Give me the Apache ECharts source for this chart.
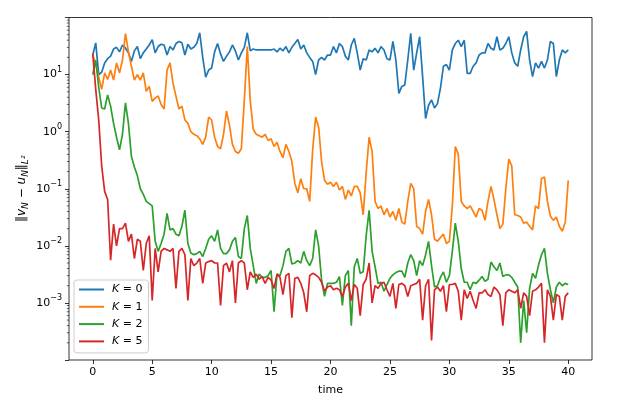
<!DOCTYPE html>
<html>
<head>
<meta charset="utf-8">
<script src="https://cdn.jsdelivr.net/npm/echarts@6.0.0/dist/echarts.min.js"></script>
<style>
  html, body { margin: 0; padding: 0; background: #fff; }
  #main { width: 618px; height: 401px; }
</style>
</head>
<body>
<div id="main"></div>
<script>
// sampled every 0.25 time units, t = 0 .. 40
var dt = 0.25;

var k0 = [22, 36, 10, 11, 16, 19, 21, 28, 30, 25, 33, 29, 24, 17, 26, 31, 19, 24, 28, 33,
  41, 24, 31, 34, 33, 22, 31, 27, 35, 38, 36, 22, 34, 28, 30, 35, 54, 20, 9, 12,
  13, 25, 35, 23, 17, 21, 25, 33, 26, 18, 24, 30, 54, 26, 28, 27, 27, 27, 27, 27,
  27, 28, 25, 29, 26, 31, 24, 30, 35, 41, 28, 33, 24, 20, 17, 10, 18, 20, 18, 22,
  22, 31, 24, 35, 31, 21, 18, 33, 43, 24, 12, 19, 18, 27, 25, 29, 24, 31, 27, 19,
  18, 38, 18, 4.7, 6.2, 6.6, 18, 53, 12, 24, 46, 9.2, 1.7, 2.9, 3.6, 2.6, 3.1, 5.8, 14, 15,
  12, 27, 35, 40, 31, 40, 10.5, 10.5, 14, 16, 22, 24, 24, 35, 29, 27, 46, 27, 29, 35,
  46, 24, 16, 14, 27, 46, 57, 18, 9.2, 16, 13, 17, 13, 18, 38, 35, 9.2, 18, 27, 24,
  27];

var k1 = [22, 15, 9, 5.5, 10.7, 8.2, 12, 8, 16, 10.7, 18, 52, 25, 14, 8, 10, 8, 10.7, 5.1, 6.2,
  3.4, 3.9, 4.2, 3.0, 2.5, 12, 16, 7, 4.2, 2.5, 2.8, 1.6, 1.4, 1.0, 0.9, 0.85, 0.75, 0.6, 0.8, 1.8,
  1.6, 0.8, 0.55, 0.5, 0.9, 2.3, 1.3, 0.6, 0.45, 0.42, 0.5, 3.6, 31, 3.5, 1.1, 0.9, 0.85, 0.8, 0.9, 0.7,
  0.75, 0.55, 0.65, 0.45, 0.35, 0.6, 0.45, 0.3, 0.124, 0.085, 0.15, 0.1, 0.1, 0.06, 0.48, 1.8, 1.2, 0.3, 0.14, 0.12,
  0.13, 0.11, 0.13, 0.095, 0.11, 0.065, 0.095, 0.075, 0.11, 0.11, 0.085, 0.035, 0.19, 0.8, 0.45, 0.06, 0.045, 0.05, 0.035, 0.045,
  0.032, 0.04, 0.028, 0.045, 0.026, 0.024, 0.06, 0.124, 0.1, 0.022, 0.02, 0.016, 0.04, 0.065, 0.035, 0.013, 0.012, 0.014, 0.016, 0.011,
  0.012, 0.05, 0.55, 0.4, 0.06, 0.05, 0.045, 0.05, 0.04, 0.032, 0.045, 0.042, 0.028, 0.06, 0.11, 0.065, 0.035, 0.02, 0.024, 0.1,
  0.33, 0.25, 0.035, 0.034, 0.032, 0.025, 0.026, 0.022, 0.019, 0.05, 0.045, 0.15, 0.16, 0.06, 0.033, 0.028, 0.032, 0.022, 0.018, 0.026,
  0.14];

var k2 = [10, 18, 6, 2.6, 2.5, 4.4, 2.8, 1.4, 0.8, 0.48, 0.9, 3.2, 1.4, 0.37, 0.24, 0.17, 0.1, 0.08, 0.06, 0.055,
  0.05, 0.012, 0.008, 0.011, 0.016, 0.037, 0.019, 0.02, 0.016, 0.015, 0.022, 0.042, 0.011, 0.0075, 0.007, 0.0073, 0.008, 0.0065, 0.009, 0.013,
  0.015, 0.012, 0.019, 0.009, 0.0073, 0.0073, 0.0085, 0.012, 0.014, 0.0065, 0.006, 0.02, 0.034, 0.009, 0.0045, 0.0022, 0.0032, 0.0028, 0.0028, 0.003,
  0.0037, 0.0007, 0.0032, 0.003, 0.0045, 0.008, 0.009, 0.0048, 0.005, 0.0055, 0.005, 0.008, 0.0055, 0.0045, 0.006, 0.019, 0.01, 0.0025, 0.0013, 0.0022,
  0.0022, 0.0022, 0.0023, 0.0029, 0.0009, 0.003, 0.0037, 0.0004, 0.0043, 0.006, 0.0033, 0.0035, 0.015, 0.042, 0.008, 0.0043, 0.0022, 0.0023, 0.0016, 0.0021,
  0.0027, 0.0031, 0.0034, 0.0036, 0.0036, 0.0028, 0.005, 0.007, 0.0055, 0.003, 0.0055, 0.0045, 0.007, 0.012, 0.0045, 0.0019, 0.002, 0.0028, 0.0035, 0.0023,
  0.003, 0.008, 0.025, 0.012, 0.004, 0.0023, 0.0023, 0.0017, 0.0023, 0.0022, 0.0025, 0.0029, 0.0024, 0.0026, 0.0052, 0.0043, 0.0037, 0.005, 0.0029, 0.0031,
  0.0031, 0.0028, 0.0023, 0.0019, 0.0002, 0.0011, 0.0003, 0.0018, 0.0033, 0.0027, 0.0046, 0.007, 0.009, 0.0033, 0.0017, 0.001, 0.0019, 0.0023, 0.002, 0.0022,
  0.0021];

var k5 = [23, 5.5, 1.6, 0.25, 0.09, 0.065, 0.0056, 0.024, 0.01, 0.02, 0.02, 0.025, 0.012, 0.016, 0.006, 0.013, 0.012, 0.0037, 0.011, 0.015,
  0.0011, 0.009, 0.0035, 0.008, 0.009, 0.0085, 0.008, 0.009, 0.0018, 0.008, 0.009, 0.007, 0.0011, 0.006, 0.0045, 0.005, 0.006, 0.0022, 0.005, 0.0053,
  0.0055, 0.005, 0.005, 0.0009, 0.0045, 0.005, 0.0035, 0.0055, 0.001, 0.005, 0.0055, 0.005, 0.0017, 0.0035, 0.0028, 0.0032, 0.0026, 0.0029, 0.0022, 0.0028,
  0.0025, 0.0018, 0.0032, 0.0028, 0.0014, 0.003, 0.0033, 0.00055, 0.0027, 0.0028, 0.0022, 0.0015, 0.0007, 0.003, 0.0033, 0.0031, 0.0028, 0.0023, 0.0016, 0.0019,
  0.002, 0.0017, 0.0018, 0.0017, 0.0013, 0.0019, 0.0022, 0.0011, 0.0021, 0.0018, 0.0006, 0.0021, 0.0026, 0.005, 0.001, 0.002, 0.0018, 0.0022, 0.0023, 0.0017,
  0.0013, 0.0022, 0.0008, 0.0021, 0.0022, 0.002, 0.0013, 0.002, 0.0021, 0.0022, 0.0026, 0.0005, 0.002, 0.0026, 0.00022, 0.0017, 0.0019, 0.0016, 0.002, 0.0007,
  0.0021, 0.0021, 0.0022, 0.0016, 0.0005, 0.0017, 0.0012, 0.0016, 0.0011, 0.0008, 0.0015, 0.0015, 0.0017, 0.0014, 0.0013, 0.0019, 0.0017, 0.0014, 0.0004, 0.0015,
  0.0017, 0.0016, 0.0015, 0.0017, 0.0008, 0.0015, 0.0013, 0.0006, 0.0016, 0.0017, 0.0019, 0.0022, 0.0002, 0.0017, 0.0013, 0.0005, 0.0014, 0.0013, 0.0005, 0.0013,
  0.0015];

var names = ['K = 0', 'K = 1', 'K = 2', 'K = 5'];
var colors = ['#1f77b4', '#ff7f0e', '#2ca02c', '#d62728'];
var xTicks = [0, 5, 10, 15, 20, 25, 30, 35, 40];
// minor log ticks: mantissa x 10^decade
var minorMantissas = [2, 3, 4, 5, 6, 7, 8, 9];
var minorDecades = [-4, -3, -2, -1, 0, 1];
var yTitle = '{n|‖}{i|v}{s|N}{n| − }{i|u}{s|N}{n|‖}{s|L²}';

var myChart = echarts.init(document.getElementById('main'));

function pairs(vals) {
    return vals.map(function (v, i) { return [i * dt, v]; });
}

var supMinus = function (e) { return e < 0 ? '−' + (-e) : '' + e; };

var option = {
    animation: false,
    color: colors,
    textStyle: { fontFamily: 'DejaVu Sans' },
    grid: {
        left: 69, top: 17.5, right: 26, bottom: 41,
        show: true, borderColor: '#000', borderWidth: 0.8
    },
    xAxis: {
        type: 'value', min: -2, max: 42,
        name: 'time', nameLocation: 'middle', nameGap: 25,
        nameTextStyle: { fontSize: 11, color: '#000' },
        axisLine: { show: false, onZero: false },
        splitLine: { show: false },
        axisTick: { customValues: xTicks, length: 4, lineStyle: { color: '#000', width: 0.8 } },
        axisLabel: { customValues: xTicks, fontSize: 11, color: '#000', margin: 7 }
    },
    yAxis: {
        type: 'log', min: 1e-4, max: 100, splitNumber: 6,
        axisLine: { show: false, onZero: false },
        splitLine: { show: false },
        axisTick: { length: 4, lineStyle: { color: '#000', width: 0.8 } },
        axisLabel: {
            margin: 7,
            formatter: function (v) {
                var e = Math.round(Math.log10(v));
                if (e < -3 || e > 1) return '';
                return '{b|10}{p|' + supMinus(e) + '}';
            },
            rich: {
                b: { fontSize: 11, lineHeight: 18, color: '#000' },
                p: { fontSize: 8, lineHeight: 10, verticalAlign: 'top', color: '#000' }
            }
        }
    },
    legend: {
        orient: 'vertical', left: 74, top: 280,
        itemWidth: 25, itemHeight: 12, itemGap: 6.3,
        padding: [4, 6, 6, 4],
        backgroundColor: 'rgba(255,255,255,0.8)',
        borderColor: '#ccc', borderWidth: 1, borderRadius: 3,
        itemStyle: { opacity: 0 },
        data: names,
        formatter: function (name) {
            return '{i|K}{n|' + name.slice(1) + '}';
        },
        textStyle: {
            fontSize: 11, color: '#000',
            rich: {
                i: { fontSize: 11, fontStyle: 'italic', padding: [0, 0, 0, 3] },
                n: { fontSize: 11 }
            }
        }
    },
    series: [k0, k1, k2, k5].map(function (vals, i) {
        return {
            name: names[i], type: 'line', data: pairs(vals),
            symbol: 'none', lineStyle: { width: 1.7 }
        };
    })
};

myChart.setOption(option, true);

// minor ticks on the log axis, placed through the axis scale
var leftX = myChart.convertToPixel({ xAxisIndex: 0 }, -2);
var yTop = myChart.convertToPixel({ yAxisIndex: 0 }, 100);
var yBottom = myChart.convertToPixel({ yAxisIndex: 0 }, 1e-4);
var extras = [];
minorDecades.forEach(function (d) {
    minorMantissas.forEach(function (m) {
        var y = myChart.convertToPixel({ yAxisIndex: 0 }, m * Math.pow(10, d));
        extras.push({
            type: 'line', silent: true,
            shape: { x1: leftX - 2.2, y1: y, x2: leftX, y2: y },
            style: { stroke: '#000', lineWidth: 0.6 }
        });
    });
});

// y axis title, centred on the axis
extras.push({
    type: 'text', silent: true,
    x: leftX - 47, y: (yTop + yBottom) / 2, rotation: Math.PI / 2,
    style: {
        text: yTitle, align: 'center', verticalAlign: 'middle',
        fontFamily: 'DejaVu Sans', fill: '#000',
        rich: {
            n: { fontSize: 12, lineHeight: 17, fill: '#000', fontFamily: 'DejaVu Sans' },
            i: { fontSize: 12, lineHeight: 17, fontStyle: 'italic', fill: '#000', fontFamily: 'DejaVu Sans' },
            s: { fontSize: 9, lineHeight: 10, fontStyle: 'italic', verticalAlign: 'bottom', fill: '#000', fontFamily: 'DejaVu Sans' }
        }
    }
});
myChart.setOption({ graphic: extras });
</script>
</body>
</html>
